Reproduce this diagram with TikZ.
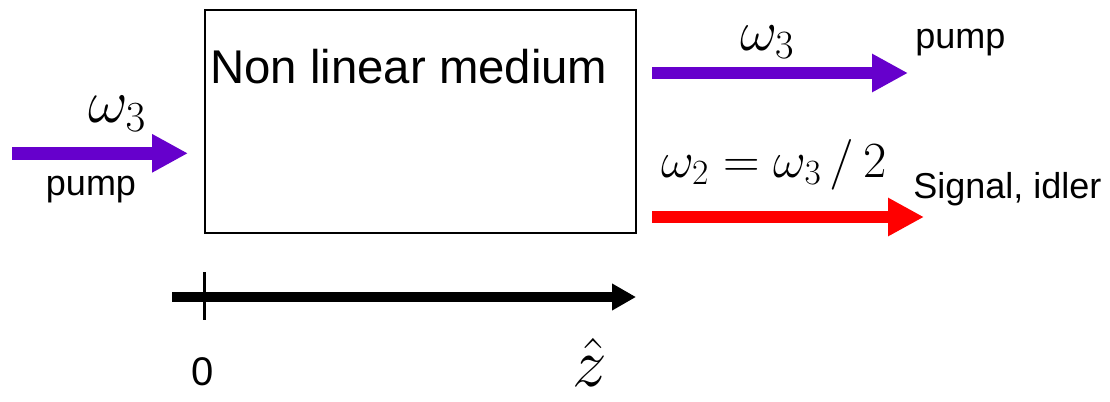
\RequirePackage{fix-cm}
\documentclass[tikz,border=0pt]{standalone}
\usepackage[no-math]{fontspec}
\setmainfont{Liberation Sans}
\usetikzlibrary{arrows.meta}

\definecolor{pumpviolet}{RGB}{102,0,204}

\begin{document}
\begin{tikzpicture}[x=0.75pt, y=-0.75pt,
    beam/.style={line width=9.5pt, -{Triangle[length=27pt, width=27pt]}},
    lbl/.style={font=\fontsize{27}{30}\selectfont, inner sep=0pt},
    freq/.style={inner sep=0pt}]

    \useasboundingbox (0,0) rectangle (1110,401);

    % Nonlinear crystal
    \node[draw=black, line width=1.5pt, minimum width=323pt, minimum height=167pt,
          inner sep=0pt] (medium) at (420.5,121.5) {};
    \node[anchor=base west, inner sep=0pt, font=\fontsize{35.5}{40}\selectfont]
        (mediumlbl) at (210,83) {Non linear medium};

    % Input pump
    \coordinate (pumpin) at (12,153.3);
    \coordinate (pumpend) at (188,153.3);
    \draw[beam, pumpviolet] (pumpin) -- (pumpend);
    \node[freq, anchor=base west, font=\fontsize{46}{50}\selectfont]
        (winlbl) at (88,122) {$\omega_3$};
    \node[lbl, anchor=base] (pumpinlbl) at (91,195) {pump};

    % Transmitted pump
    \coordinate (pumpout) at (652,73);
    \coordinate (pumpoutend) at (908,73);
    \draw[beam, pumpviolet] (pumpout) -- (pumpoutend);
    \node[freq, anchor=base west, font=\fontsize{43}{48}\selectfont]
        (woutlbl) at (740,50) {$\omega_3$};
    \node[lbl, anchor=base west] (pumpoutlbl) at (915,48) {pump};

    % Signal and idler (degenerate)
    \coordinate (sigout) at (652,217);
    \coordinate (sigend) at (924,217);
    \draw[beam, red] (sigout) -- (sigend);
    \node[freq, anchor=base west, font=\fontsize{38}{42}\selectfont]
        (wsiglbl) at (661,177) {$\omega_2 = \omega_3\,/\,2$};
    \node[lbl, anchor=base west] (siglbl) at (913,198) {Signal, idler};

    % Propagation axis
    \coordinate (zstart) at (172,297);
    \coordinate (zend) at (636,297);
    \coordinate (ticktop) at (204,272);
    \coordinate (tickbot) at (204,320);
    \draw[line width=7pt, -{Triangle[length=18pt, width=19pt]}] (zstart) -- (zend);
    \draw[line width=2.25pt] (ticktop) -- (tickbot);
    \node[lbl, font=\fontsize{30}{34}\selectfont] (zero) at (203,372) {0};
    \node[freq, anchor=base, font=\fontsize{52}{56}\selectfont]
        (zlbl) at (590,386) {$\hat{z}$};

\end{tikzpicture}
\end{document}
